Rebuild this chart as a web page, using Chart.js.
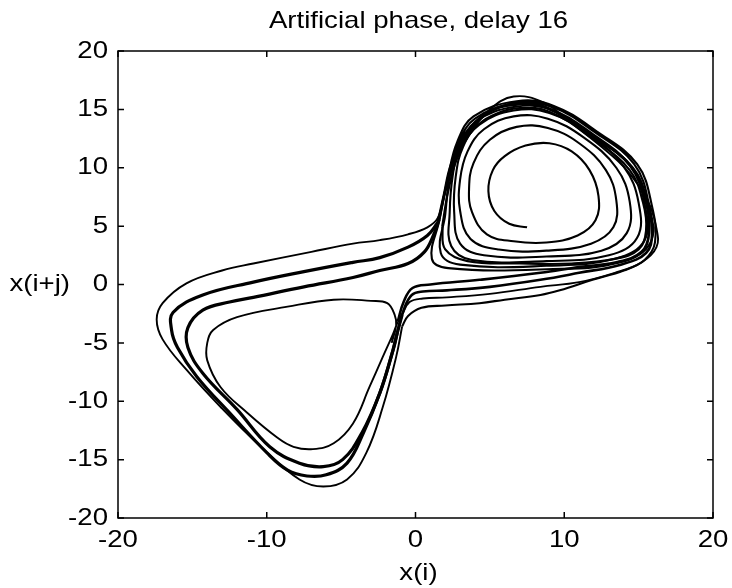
<!DOCTYPE html>
<html>
<head>
<meta charset="utf-8">
<title>Artificial phase, delay 16</title>
<script src="https://cdn.jsdelivr.net/npm/chart.js@4.4.0/dist/chart.umd.min.js"></script>
<style>
  html, body { margin: 0; padding: 0; background: #fff; }
  #wrap { width: 732px; height: 588px; }
</style>
</head>
<body>
<div id="wrap"><canvas id="phase-chart" width="732" height="588"></canvas></div>
<script>
// tick labels
const xTicks = [-20, -10, 0, 10, 20];
const yTicks = [-20, -15, -10, -5, 0, 5, 10, 15, 20];

// trajectory pieces, [x(i), x(i+j)]
// right lobe spiral, from the loose inner end outwards, then out through the lower band
const spiralRight = [
  [7.5,4.9],[6.3,5.2],[5.3,6.3],[4.9,8.0],[5.2,9.8],[6.0,11.0],[7.4,11.9],[9.0,12.1],[10.5,11.4],[11.7,9.8],[12.3,7.6],[12.1,5.5],[10.9,4.2],[8.8,3.6],[6.6,3.7],
  [4.8,4.3],[3.8,6.2],[3.6,8.2],[3.9,10.4],[5.0,12.4],[6.8,13.5],[8.9,13.4],[11.0,12.1],[12.8,9.8],[13.5,7.2],[13.3,4.9],[11.8,3.5],[8.8,2.9],[5.6,3.0],
  [3.7,3.9],[3.0,6.3],[3.0,9.0],[3.5,11.4],[4.6,13.3],[6.6,14.4],[8.9,14.2],[11.3,12.6],[13.5,10.0],[14.4,7.1],[14.2,4.4],[12.5,2.9],[8.8,2.4],[4.6,2.5],
  [3.0,3.5],[2.6,6.2],[2.7,9.2],[3.2,11.8],[4.3,13.7],[6.6,14.9],[9.0,14.7],[11.7,12.8],[14.0,10.1],[15.0,7.0],[14.9,4.0],[13.0,2.5],[8.8,2.0],[3.8,2.1],
  [2.4,3.3],[2.3,6.2],[2.5,9.3],[3.0,12.0],[4.1,14.0],[6.6,15.2],[9.1,15.0],[11.9,12.9],[14.4,10.2],[15.4,6.9],[15.4,3.8],[13.4,2.2],[8.8,1.6],[3.0,1.7],
  [1.7,2.7],[2.0,6.0],[2.3,9.3],[2.9,12.1],[4.0,14.2],[6.7,15.5],[9.2,15.2],[12.1,13.0],[14.7,10.3],[15.7,6.8],[15.8,3.6],[13.8,1.9],[8.8,1.3],[2.2,1.4],
  [1.1,2.2],[1.6,5.5],[2.2,9.3],[2.8,12.2],[3.9,14.4],[6.8,15.7],[9.3,15.3],[12.2,13.1],[14.9,10.3],[15.9,6.7],[16.1,3.6],[15.4,2.1],[14.0,1.2],[11.9,0.4],
  [9.7,-0.5],[8.4,-0.9],[6.0,-1.3],[4.3,-1.6],[2.0,-1.8],[0.4,-2.0],[-0.5,-2.7],[-0.9,-3.6]
];
// widest loop round the left lobe, back along the top band, once round the right lobe
const outerPass = [
  [-0.9,-3.6],[-1.3,-6.2],[-2.2,-10.5],[-3.3,-14.4],[-4.6,-16.7],[-6.2,-17.3],[-7.8,-16.7],[-10.4,-13.9],[-13.1,-10.5],[-15.4,-7.3],[-17.0,-4.7],[-17.4,-3.0],[-17.0,-1.6],[-15.4,0.1],
  [-13.0,1.2],[-10.9,1.8],[-7.0,2.8],[-4.2,3.5],[-2.4,3.8],[-0.5,4.3],[0.8,4.9],[1.5,5.7],
  [2.0,8.0],[2.7,10.7],[3.7,13.0],[5.0,15.0],[6.6,16.1],[8.6,15.6],[10.4,13.9],[12.5,11.8],[14.2,9.8],[15.6,7.2],[16.2,4.8],[16.2,3.2],[15.2,1.9],[13.4,1.0],[11.0,0.2],
  [8.4,-0.2],[5.0,-0.8],[2.1,-1.1],[0.5,-1.2],[-0.4,-1.5],[-0.9,-2.6]
];
// inner double loop of the left lobe
const leftBandInner = [
  [-0.9,-2.6],[-1.3,-4.5],[-1.6,-6.0],[-2.4,-9.3],[-3.6,-12.7],[-4.9,-15.0],[-6.2,-15.6],[-7.8,-15.3],[-9.8,-13.9],[-12.0,-10.7],[-14.3,-7.6],[-15.3,-5.4],[-15.3,-3.7],[-14.3,-2.2],
  [-12.5,-1.5],[-10.9,-1.1],[-7.5,-0.2],[-4.2,0.6],[-2.4,1.2],[-0.5,1.8],[0.6,2.8],[1.2,4.2],[1.6,5.6]
];
const rightLoopA = [
  [1.6,5.6],[2.0,8.0],[2.6,10.6],[3.6,13.0],[5.0,14.8],[6.9,15.5],[8.9,15.1],[11.9,12.7],[14.6,10.0],[15.6,7.0],[15.9,4.3],[15.5,2.7],[13.8,1.7],[11.0,1.0],
  [8.4,0.4],[5.0,-0.2],[2.1,-0.5],[0.5,-0.6],[-0.25,-0.9],[-0.8,-2.2],[-1.2,-4.0]
];
// outer double loop of the left lobe
const leftBandOuter = [
  [-1.2,-4.0],[-1.5,-5.6],[-2.4,-9.3],[-3.5,-12.7],[-4.6,-15.3],[-6.0,-16.3],[-7.3,-16.4],[-8.6,-15.9],[-10.0,-14.4],[-12.5,-11.0],[-14.7,-7.9],[-16.0,-5.4],[-16.4,-3.9],[-16.3,-2.4],
  [-14.3,-0.9],[-10.9,0.2],[-7.5,1.1],[-4.2,1.9],[-2.4,2.3],[-0.5,3.2],[0.8,4.2],[1.5,5.3]
];
const rightLoopB = [
  [1.5,5.3],[1.9,7.6],[2.4,10.3],[3.4,12.9],[4.8,14.7],[6.7,15.4],[8.7,15.2],[11.8,12.8],[14.5,10.1],[15.5,7.0],[15.7,4.4],[15.2,2.8],[13.5,1.9],[11.0,1.5],
  [8.4,1.0],[4.3,0.4],[1.0,0.0],[-0.2,-0.3],[-0.8,-1.5],[-1.2,-3.2]
];
// one more turn inside the dense right band
const rightLoopC = [
  [1.8,5.0],[2.2,8.0],[2.8,10.8],[3.9,13.3],[5.4,14.6],[7.0,15.1],[9.0,14.8],[12.0,12.4],[14.4,9.8],[15.3,7.0],[15.5,4.6],[15.0,3.0],[13.4,2.2],[10.5,1.8],
  [7.0,1.8],[3.5,2.0],[2.0,3.0],[1.8,5.0]
];
// smallest loop of the left lobe
const leftInner = [
  [-1.2,-3.2],[-1.5,-4.2],[-2.2,-6.2],[-3.1,-8.8],[-4.2,-11.9],[-5.5,-13.6],[-6.9,-14.1],[-8.2,-13.9],[-9.3,-13.1],[-11.3,-11.0],[-13.1,-8.8],[-14.0,-6.5],[-14.0,-5.0],
  [-13.6,-3.9],[-12.0,-2.8],[-8.6,-1.9],[-5.5,-1.3],[-3.0,-1.4],[-1.9,-1.6],[-1.4,-2.6],[-1.3,-3.5],[-1.6,-5.0]
];

const FONT = '"Liberation Sans", Arial, sans-serif';
const FONT_SIZE = 24;
const STRETCH = 1.15; // the scanned figure's lettering is a little wide

const toPoints = (arr) => arr.map(([x, y]) => ({ x, y }));

const pieces = [
  { data: spiralRight, width: 2.1 },
  { data: outerPass, width: 1.9 },
  { data: leftBandInner, width: 3.2 },
  { data: rightLoopA, width: 2.6 },
  { data: leftBandOuter, width: 3.2 },
  { data: rightLoopB, width: 2.6 },
  { data: rightLoopC, width: 2.2 },
  { data: leftInner, width: 1.9 },
];

function wideText(ctx, text, x, y, align) {
  ctx.save();
  ctx.translate(x, y);
  ctx.scale(STRETCH, 1);
  ctx.textAlign = align;
  ctx.fillText(text, 0, 0);
  ctx.restore();
}

// box, inward ticks on all four sides, tick labels, title and axis labels
const framePlugin = {
  id: 'frame',
  afterDraw(chart) {
    const { ctx, chartArea: a, scales } = chart;
    ctx.save();
    ctx.strokeStyle = '#000';
    ctx.lineWidth = 1.5;
    ctx.strokeRect(a.left, a.top, a.right - a.left, a.bottom - a.top);
    const len = 6;
    ctx.beginPath();
    scales.x.ticks.forEach((t) => {
      const px = scales.x.getPixelForValue(t.value);
      ctx.moveTo(px, a.bottom); ctx.lineTo(px, a.bottom - len);
      ctx.moveTo(px, a.top); ctx.lineTo(px, a.top + len);
    });
    scales.y.ticks.forEach((t) => {
      const py = scales.y.getPixelForValue(t.value);
      ctx.moveTo(a.left, py); ctx.lineTo(a.left + len, py);
      ctx.moveTo(a.right, py); ctx.lineTo(a.right - len, py);
    });
    ctx.stroke();

    ctx.fillStyle = '#000';
    ctx.font = FONT_SIZE + 'px ' + FONT;
    ctx.textBaseline = 'middle';
    scales.x.ticks.forEach((t) => {
      wideText(ctx, String(t.value), scales.x.getPixelForValue(t.value), a.bottom + 22, 'center');
    });
    scales.y.ticks.forEach((t) => {
      wideText(ctx, String(t.value), a.left - 10, scales.y.getPixelForValue(t.value), 'right');
    });
    const cx = (a.left + a.right) / 2;
    wideText(ctx, 'Artificial phase, delay 16', cx + 3, 21, 'center');
    wideText(ctx, 'x(i)', cx + 3, 573, 'center');
    wideText(ctx, 'x(i+j)', 70, scales.y.getPixelForValue(0), 'right');
    ctx.restore();
  }
};

new Chart(document.getElementById('phase-chart').getContext('2d'), {
  type: 'scatter',
  data: {
    datasets: pieces.map((p) => ({
      data: toPoints(p.data),
      showLine: true,
      borderColor: '#000',
      borderWidth: p.width,
      pointRadius: 0,
      tension: 0.4,
      fill: false,
    })),
  },
  options: {
    responsive: false,
    animation: false,
    devicePixelRatio: 1,
    layout: { padding: { top: 51, right: 19, left: 0, bottom: 0 } },
    plugins: { legend: { display: false }, tooltip: { enabled: false }, title: { display: false } },
    scales: {
      x: {
        type: 'linear',
        min: -20,
        max: 20,
        afterFit: (scale) => { scale.height = 70; },
        afterBuildTicks: (scale) => { scale.ticks = xTicks.map((v) => ({ value: v })); },
        grid: { display: false, drawTicks: false },
        border: { display: false },
        ticks: { display: false },
      },
      y: {
        type: 'linear',
        min: -20,
        max: 20,
        afterFit: (scale) => { scale.width = 118; },
        afterBuildTicks: (scale) => { scale.ticks = yTicks.map((v) => ({ value: v })); },
        grid: { display: false, drawTicks: false },
        border: { display: false },
        ticks: { display: false },
      },
    },
  },
  plugins: [framePlugin],
});
</script>
</body>
</html>
